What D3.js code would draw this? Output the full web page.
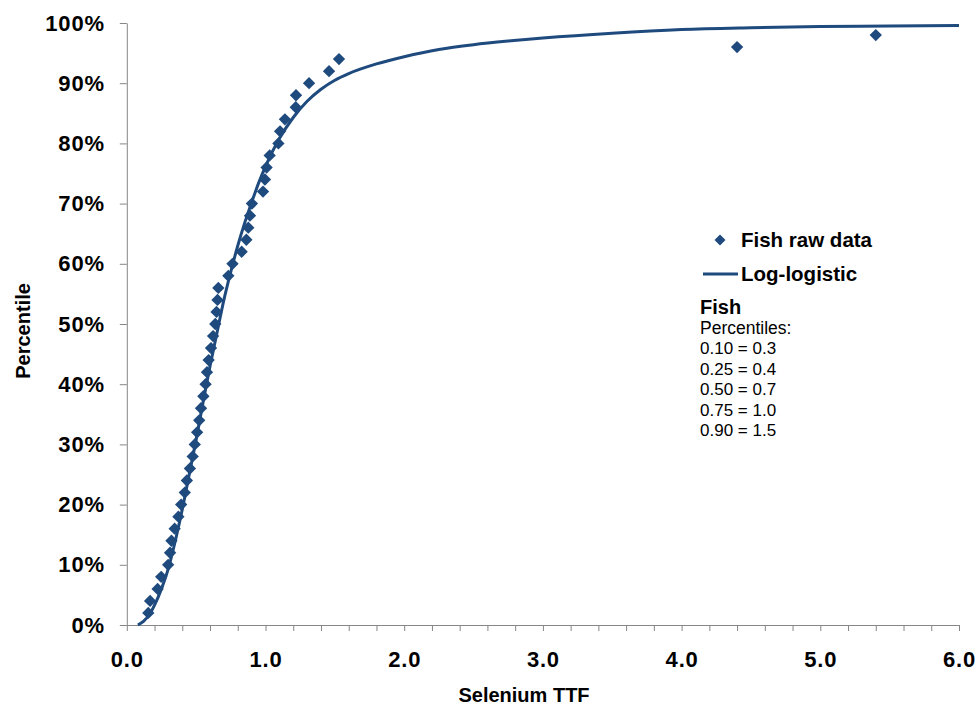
<!DOCTYPE html>
<html>
<head>
<meta charset="utf-8">
<script src="https://cdn.jsdelivr.net/npm/d3@7"></script>
<style>
  body { margin: 0; background: #fff; }
  svg text { font-family: "Liberation Sans", Arial, sans-serif; }
</style>
</head>
<body>
<svg id="chart" width="979" height="709"></svg>
<script>
// raw data: Selenium TTF values, plotted at percentile 2%,4%,...98%
const fishX = [0.155, 0.168, 0.222, 0.248, 0.298, 0.312, 0.322, 0.345, 0.372, 0.392,
               0.418, 0.433, 0.455, 0.475, 0.49, 0.507, 0.522, 0.535, 0.552, 0.568,
               0.578, 0.59, 0.607, 0.622, 0.638, 0.647, 0.654, 0.66, 0.732, 0.762,
               0.828, 0.862, 0.876, 0.888, 0.902, 0.982, 0.996, 1.008, 1.03, 1.093,
               1.105, 1.14, 1.218, 1.22, 1.314, 1.458, 1.53, 4.40, 5.40];
const fishP = [2, 4, 6, 8, 10, 12, 14, 16, 18, 20,
               22, 24, 26, 28, 30, 32, 34, 36, 38, 40,
               42, 44, 46, 48, 50, 52, 54, 56, 58, 60,
               62, 64, 66, 68, 70, 72, 74, 76, 78, 80,
               82, 84, 86, 88, 90, 92, 94, 96, 98];

// log-logistic fit
const curveX = [0.08, 0.12, 0.17, 0.20, 0.25, 0.30, 0.35, 0.40, 0.45, 0.50,
                0.55, 0.60, 0.65, 0.70, 0.75, 0.80, 0.85, 0.90, 0.95, 1.00,
                1.10, 1.20, 1.30, 1.40, 1.50, 1.60, 1.80, 2.00, 2.25, 2.50,
                2.75, 3.00, 3.50, 4.00, 4.50, 5.00, 5.50, 6.00];
const curveP = [0.0, 0.6, 2.0, 3.3, 6.0, 9.4, 14.0, 19.2, 25.0, 30.8,
                37.0, 43.0, 48.5, 54.0, 58.7, 63.0, 66.8, 70.2, 73.4, 76.2,
                80.8, 84.3, 87.0, 89.0, 90.5, 91.6, 93.2, 94.4, 95.6, 96.4,
                97.0, 97.5, 98.3, 98.9, 99.2, 99.4, 99.5, 99.6];

const xTicks = [0, 0.2, 0.4, 0.6, 0.8, 1, 1.2, 1.4, 1.6, 1.8, 2, 2.2, 2.4, 2.6, 2.8,
                3, 3.2, 3.4, 3.6, 3.8, 4, 4.2, 4.4, 4.6, 4.8, 5, 5.2, 5.4, 5.6, 5.8, 6];
const yTicks = [0, 10, 20, 30, 40, 50, 60, 70, 80, 90, 100];
const pctLines = ["0.10 = 0.3", "0.25 = 0.4", "0.50 = 0.7", "0.75 = 1.0", "0.90 = 1.5"];

const blue = "#1F4A7E";
const svg = d3.select("#chart");

const x = d3.scaleLinear().domain([0, 6]).range([126.8, 959]);
const y = d3.scaleLinear().domain([0, 100]).range([625, 23]);

// axes
const xAxis = d3.axisBottom(x)
    .tickValues(xTicks)
    .tickSize(6)
    .tickSizeOuter(0)
    .tickPadding(20)
    .tickFormat(d => Math.abs(d - Math.round(d)) < 1e-9 ? d3.format(".1f")(d) : "");

const yAxis = d3.axisLeft(y)
    .tickValues(yTicks)
    .tickSize(7)
    .tickSizeOuter(0)
    .tickPadding(15)
    .tickFormat(d => d + "%");

const gx = svg.append("g").attr("transform", "translate(0,625)").call(xAxis);
const gy = svg.append("g").attr("transform", "translate(126.8,0)").call(yAxis);

[gx, gy].forEach(g => {
    g.select(".domain").attr("stroke", "#868686");
    g.selectAll(".tick line").attr("stroke", "#868686");
    g.selectAll(".tick text")
        .attr("fill", "#000")
        .attr("font-size", 22)
        .attr("font-weight", "bold")
        .attr("letter-spacing", 0.8)
        .attr("font-family", "Liberation Sans, Arial, sans-serif");
});

// axis titles
svg.append("text")
    .attr("x", 524).attr("y", 702)
    .attr("text-anchor", "middle")
    .attr("font-size", 20).attr("font-weight", "bold")
    .text("Selenium TTF");

svg.append("text")
    .attr("transform", "translate(30,331) rotate(-90)")
    .attr("text-anchor", "middle")
    .attr("font-size", 20).attr("font-weight", "bold")
    .text("Percentile");

// fitted curve
const line = d3.line()
    .x(d => x(d[0]))
    .y(d => y(d[1]))
    .curve(d3.curveMonotoneX);

svg.append("path")
    .datum(curveX.map((v, i) => [v, curveP[i]]))
    .attr("fill", "none")
    .attr("stroke", blue)
    .attr("stroke-width", 3)
    .attr("d", line);

// raw data diamonds
const diamond = d3.symbol().type(d3.symbolSquare).size(76);

svg.append("g")
    .selectAll("path")
    .data(fishX.map((v, i) => [v, fishP[i]]))
    .join("path")
    .attr("d", diamond)
    .attr("transform", d => `translate(${x(d[0])},${y(d[1])}) rotate(45)`)
    .attr("fill", blue);

// legend
const lg = svg.append("g");
lg.append("path")
    .attr("d", d3.symbol().type(d3.symbolSquare).size(60))
    .attr("transform", "translate(720,240) rotate(45)")
    .attr("fill", blue);
lg.append("text")
    .attr("x", 741).attr("y", 247)
    .attr("font-size", 20.5).attr("font-weight", "bold")
    .text("Fish raw data");
lg.append("line")
    .attr("x1", 703).attr("x2", 738)
    .attr("y1", 274).attr("y2", 274)
    .attr("stroke", blue).attr("stroke-width", 3);
lg.append("text")
    .attr("x", 741).attr("y", 281)
    .attr("font-size", 20.5).attr("font-weight", "bold")
    .text("Log-logistic");

// percentile note
lg.append("text")
    .attr("x", 700).attr("y", 314)
    .attr("font-size", 20).attr("font-weight", "bold")
    .text("Fish");
lg.append("text")
    .attr("x", 700).attr("y", 334)
    .attr("font-size", 17.5)
    .text("Percentiles:");
lg.selectAll("text.pct")
    .data(pctLines)
    .join("text")
    .attr("class", "pct")
    .attr("x", 700)
    .attr("y", (d, i) => 354 + i * 20.6)
    .attr("font-size", 17)
    .text(d => d);
</script>
</body>
</html>
